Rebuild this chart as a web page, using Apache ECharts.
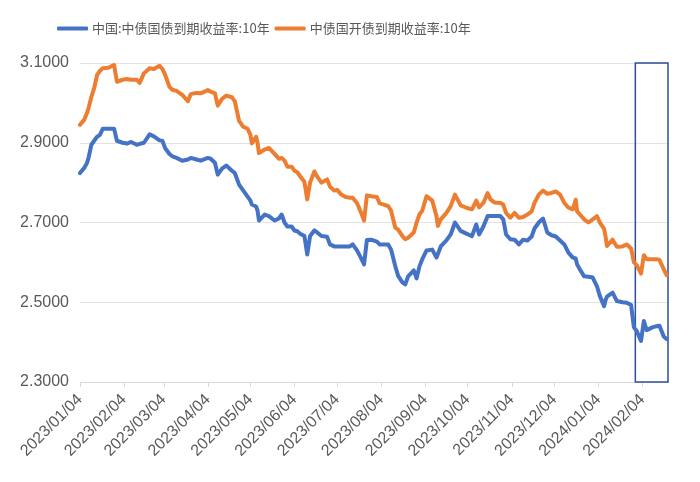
<!DOCTYPE html>
<html>
<head>
<meta charset="utf-8">
<script src="https://cdn.jsdelivr.net/npm/echarts@6/dist/echarts.min.js"></script>
<style>html,body{margin:0;padding:0;background:#fff}#c{width:700px;height:482px}</style>
</head>
<body>
<div id="c"></div>
<script>
const seriesNames = ['中国:中债国债到期收益率:10年', '中债国开债到期收益率:10年'];
const axisStart = '2023/01/04';
const axisEnd = '2024/02/22';
const yTicks = [2.3, 2.5, 2.7, 2.9, 3.1];
const highlightRange = ['2024/01/30', '2024/02/22'];

const dates = [
'2023/01/04','2023/01/07','2023/01/09','2023/01/10','2023/01/12','2023/01/14','2023/01/16','2023/01/18','2023/01/20','2023/01/24',
'2023/01/28','2023/01/30','2023/02/03','2023/02/06','2023/02/09','2023/02/13','2023/02/15','2023/02/18','2023/02/22','2023/02/25',
'2023/03/01','2023/03/03','2023/03/05','2023/03/08','2023/03/10','2023/03/13','2023/03/17','2023/03/21','2023/03/23','2023/03/27',
'2023/03/30','2023/04/04','2023/04/06','2023/04/09','2023/04/11','2023/04/14','2023/04/17','2023/04/21','2023/04/23','2023/04/26',
'2023/04/29','2023/05/02','2023/05/04','2023/05/05','2023/05/08','2023/05/09','2023/05/10','2023/05/14','2023/05/17','2023/05/21',
'2023/05/24','2023/05/26','2023/05/28','2023/05/30','2023/06/02','2023/06/04','2023/06/06','2023/06/08','2023/06/11','2023/06/13',
'2023/06/15','2023/06/18','2023/06/20','2023/06/23','2023/06/27','2023/06/29','2023/07/02','2023/07/04','2023/07/07','2023/07/10',
'2023/07/13','2023/07/15','2023/07/18','2023/07/21','2023/07/23','2023/07/25','2023/07/28','2023/08/01','2023/08/03','2023/08/06',
'2023/08/09','2023/08/11','2023/08/14','2023/08/16','2023/08/19','2023/08/21','2023/08/23','2023/08/25','2023/08/27','2023/08/29',
'2023/08/31','2023/09/02','2023/09/05','2023/09/09','2023/09/12','2023/09/13','2023/09/15','2023/09/19','2023/09/22','2023/09/25',
'2023/09/29','2023/10/03','2023/10/07','2023/10/10','2023/10/12','2023/10/15','2023/10/18','2023/10/20','2023/10/23','2023/10/27',
'2023/10/29','2023/10/31','2023/11/03','2023/11/06','2023/11/09','2023/11/12','2023/11/15','2023/11/18','2023/11/20','2023/11/23',
'2023/11/26','2023/11/29','2023/12/02','2023/12/05','2023/12/08','2023/12/11','2023/12/14','2023/12/17','2023/12/19','2023/12/20',
'2023/12/22','2023/12/25','2023/12/28','2023/12/31','2024/01/03','2024/01/05','2024/01/08','2024/01/09','2024/01/10','2024/01/14',
'2024/01/17','2024/01/21','2024/01/24','2024/01/27','2024/01/29','2024/01/31','2024/02/03','2024/02/05','2024/02/07','2024/02/11',
'2024/02/14','2024/02/16','2024/02/19','2024/02/21'
];
const cgb10y = [
2.824,2.837,2.850,2.862,2.895,2.905,2.915,2.920,2.935,2.935,
2.935,2.905,2.900,2.898,2.902,2.895,2.897,2.900,2.921,2.916,
2.906,2.905,2.886,2.872,2.866,2.862,2.855,2.858,2.862,2.858,
2.855,2.862,2.860,2.850,2.820,2.835,2.843,2.830,2.824,2.795,
2.780,2.765,2.755,2.745,2.740,2.730,2.705,2.720,2.716,2.705,
2.710,2.720,2.700,2.690,2.690,2.680,2.678,2.672,2.666,2.620,
2.666,2.680,2.675,2.666,2.664,2.645,2.640,2.640,2.640,2.640,
2.640,2.645,2.630,2.610,2.595,2.656,2.657,2.652,2.645,2.645,
2.645,2.632,2.590,2.566,2.550,2.545,2.565,2.572,2.580,2.560,
2.590,2.608,2.630,2.632,2.612,2.612,2.640,2.655,2.670,2.700,
2.679,2.672,2.666,2.695,2.670,2.690,2.716,2.716,2.716,2.716,
2.708,2.670,2.658,2.657,2.645,2.657,2.655,2.665,2.685,2.700,
2.710,2.675,2.668,2.665,2.655,2.645,2.624,2.612,2.610,2.595,
2.582,2.565,2.564,2.562,2.540,2.516,2.490,2.505,2.514,2.524,
2.503,2.500,2.499,2.493,2.437,2.428,2.403,2.453,2.430,2.437,
2.440,2.441,2.414,2.408
];
const cdb10y = [
2.945,2.958,2.975,2.987,3.015,3.037,3.070,3.080,3.087,3.088,
3.095,3.053,3.058,3.060,3.058,3.058,3.050,3.074,3.087,3.085,
3.093,3.085,3.070,3.040,3.033,3.030,3.020,3.004,3.022,3.025,
3.024,3.032,3.028,3.024,2.993,3.010,3.018,3.014,3.004,2.955,
2.940,2.935,2.920,2.898,2.915,2.900,2.874,2.883,2.887,2.872,
2.860,2.862,2.855,2.840,2.840,2.830,2.826,2.816,2.802,2.758,
2.800,2.828,2.815,2.800,2.808,2.790,2.780,2.782,2.770,2.764,
2.762,2.762,2.749,2.724,2.705,2.768,2.766,2.764,2.748,2.745,
2.741,2.730,2.687,2.682,2.666,2.658,2.662,2.668,2.675,2.700,
2.720,2.730,2.766,2.755,2.716,2.691,2.708,2.724,2.741,2.770,
2.743,2.737,2.733,2.755,2.738,2.749,2.774,2.758,2.750,2.749,
2.745,2.724,2.712,2.724,2.712,2.714,2.720,2.728,2.749,2.770,
2.780,2.772,2.774,2.778,2.770,2.749,2.737,2.733,2.757,2.728,
2.720,2.708,2.700,2.708,2.716,2.700,2.684,2.666,2.641,2.657,
2.639,2.640,2.645,2.635,2.600,2.593,2.572,2.618,2.608,2.608,
2.608,2.606,2.583,2.568
];

function pad(n){return n<10?'0'+n:''+n;}
function fmt(d){return d.getFullYear()+'/'+pad(d.getMonth()+1)+'/'+pad(d.getDate());}
const categories = [];
(function(){
  const s = new Date(axisStart.replace(/\//g,'-')+'T00:00:00');
  const e = new Date(axisEnd.replace(/\//g,'-')+'T00:00:00');
  for (let d = new Date(s); d <= e; d.setDate(d.getDate()+1)) categories.push(fmt(d));
})();
const isTickDay = (i, v) => v.slice(8) === '04';

const chart = echarts.init(document.getElementById('c'), null, {renderer:'canvas'});
chart.setOption({
  animation: false,
  color: ['#4472C4', '#ED7D31'],
  legend: {
    top: 17, left: 52,
    itemWidth: 31, itemHeight: 4, itemGap: 5,
    icon: 'roundRect',
    textStyle: {fontSize: 13, color: '#595959', padding: [0, 0, 0, -1],
      fontFamily: '"Noto Sans CJK SC", sans-serif'},
    data: seriesNames
  },
  grid: {left: 80, right: 32, top: 63, bottom: 100, containLabel: false},
  xAxis: {
    type: 'category',
    data: categories,
    boundaryGap: false,
    axisLine: {lineStyle: {color: '#d9d9d9'}},
    axisTick: {show: true, interval: isTickDay, length: 5, lineStyle: {color: '#d9d9d9'}},
    axisLabel: {interval: isTickDay, rotate: 45, fontSize: 16, color: '#595959', margin: 15,
      fontFamily: '"Liberation Sans", Arial, sans-serif'},
    splitLine: {show: false}
  },
  yAxis: {
    type: 'value',
    min: yTicks[0], max: yTicks[yTicks.length-1], interval: 0.2,
    axisLine: {show: false}, axisTick: {show: false},
    axisLabel: {formatter: v => v.toFixed(4), fontSize: 16, color: '#595959', margin: 11,
      fontFamily: '"Liberation Sans", Arial, sans-serif'},
    splitLine: {lineStyle: {color: '#e3e3e3', width: 1}}
  },
  series: [
    {
      name: seriesNames[0], type: 'line', showSymbol: false, symbol: 'none',
      data: dates.map((d, i) => [d, cgb10y[i]]),
      lineStyle: {width: 4, join: 'round', cap: 'round'},
      markArea: {
        silent: true,
        itemStyle: {color: 'rgba(0,0,0,0)', borderColor: '#2F4F9A', borderWidth: 1.5},
        data: [[{xAxis: highlightRange[0]}, {xAxis: highlightRange[1]}]]
      }
    },
    {
      name: seriesNames[1], type: 'line', showSymbol: false, symbol: 'none',
      data: dates.map((d, i) => [d, cdb10y[i]]),
      lineStyle: {width: 4, join: 'round', cap: 'round'}
    }
  ]
});
</script>
</body>
</html>
